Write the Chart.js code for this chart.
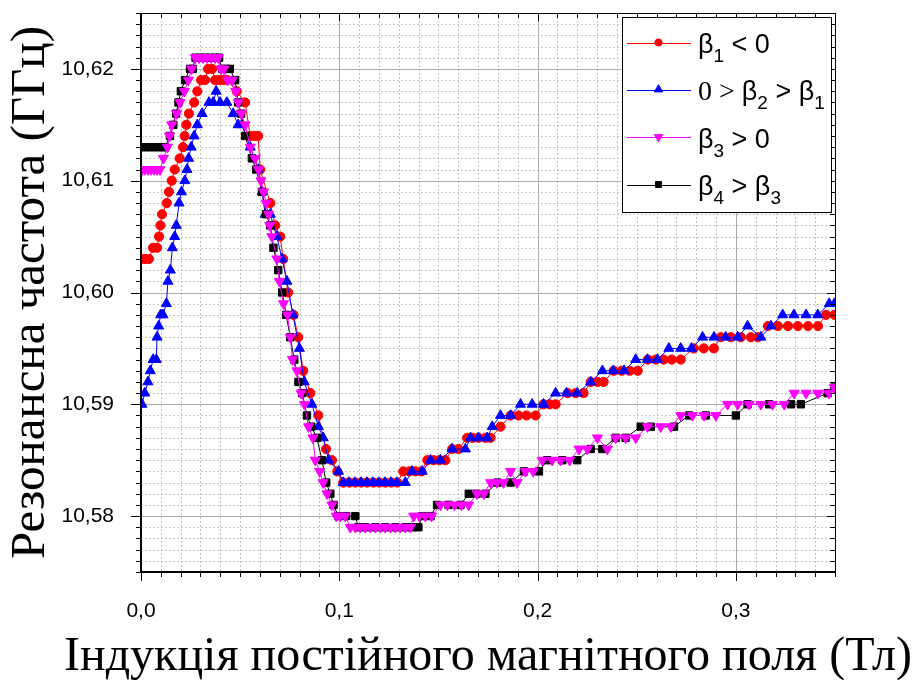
<!DOCTYPE html>
<html>
<head>
<meta charset="utf-8">
<script src="https://cdn.jsdelivr.net/npm/chart.js@4.4.0/dist/chart.umd.min.js"></script>
<style>
  html, body { margin: 0; padding: 0; background: #ffffff; }
  canvas { display: block; }
</style>
</head>
<body>
<canvas id="c" width="916" height="680" style="width:916px;height:680px"></canvas>
<script>
// Resonance frequency (GHz) versus bias magnetic induction (T), four series.
// Each point is [induction, frequency].
const seriesBeta1 = [
  [0.0000,10.603],[0.0020,10.603],[0.0040,10.603],[0.0061,10.604],[0.0081,10.604],[0.0091,10.605],[0.0098,10.606],[0.0106,10.607],
  [0.0130,10.608],[0.0141,10.609],[0.0155,10.610],[0.0170,10.611],[0.0195,10.612],[0.0212,10.613],[0.0220,10.614],[0.0229,10.615],
  [0.0242,10.616],[0.0268,10.617],[0.0284,10.618],[0.0303,10.619],[0.0323,10.619],[0.0338,10.620],[0.0359,10.620],[0.0374,10.619],
  [0.0394,10.619],[0.0414,10.619],[0.0434,10.619],[0.0483,10.618],[0.0525,10.617],[0.0551,10.614],[0.0571,10.614],[0.0591,10.614],
  [0.0601,10.611],[0.0652,10.608],[0.0677,10.606],[0.0702,10.605],[0.0717,10.603],[0.0742,10.600],[0.0769,10.598],[0.0793,10.596],
  [0.0818,10.593],[0.0854,10.591],[0.0894,10.589],[0.0933,10.586],[0.0963,10.585],[0.0990,10.584],[0.1020,10.583],[0.1051,10.583],
  [0.1081,10.583],[0.1111,10.583],[0.1141,10.583],[0.1172,10.583],[0.1202,10.583],[0.1232,10.583],[0.1263,10.583],[0.1293,10.583],
  [0.1323,10.584],[0.1354,10.584],[0.1384,10.584],[0.1414,10.584],[0.1444,10.585],[0.1475,10.585],[0.1505,10.585],[0.1535,10.585],
  [0.1569,10.586],[0.1601,10.586],[0.1645,10.587],[0.1672,10.587],[0.1702,10.587],[0.1737,10.587],[0.1763,10.587],[0.1813,10.588],
  [0.1864,10.589],[0.1904,10.589],[0.1944,10.589],[0.1990,10.589],[0.2030,10.590],[0.2061,10.590],[0.2091,10.590],[0.2152,10.591],
  [0.2192,10.591],[0.2232,10.591],[0.2268,10.592],[0.2303,10.592],[0.2333,10.592],[0.2384,10.593],[0.2424,10.593],[0.2465,10.593],
  [0.2505,10.593],[0.2556,10.594],[0.2596,10.594],[0.2636,10.594],[0.2677,10.594],[0.2722,10.594],[0.2788,10.595],[0.2838,10.595],
  [0.2889,10.595],[0.2924,10.596],[0.2975,10.596],[0.3025,10.596],[0.3076,10.596],[0.3111,10.596],[0.3162,10.597],[0.3212,10.597],
  [0.3263,10.597],[0.3313,10.597],[0.3364,10.597],[0.3414,10.597],[0.3455,10.598],[0.3497,10.598]
];

const seriesBeta2 = [
  [0.0005,10.590],[0.0019,10.591],[0.0035,10.592],[0.0047,10.593],[0.0061,10.594],[0.0077,10.594],[0.0081,10.596],[0.0089,10.597],
  [0.0099,10.598],[0.0111,10.598],[0.0128,10.599],[0.0136,10.601],[0.0148,10.602],[0.0158,10.604],[0.0170,10.605],[0.0178,10.606],
  [0.0192,10.608],[0.0204,10.609],[0.0221,10.610],[0.0232,10.611],[0.0240,10.612],[0.0253,10.613],[0.0268,10.614],[0.0284,10.615],
  [0.0308,10.616],[0.0343,10.617],[0.0364,10.617],[0.0379,10.618],[0.0399,10.617],[0.0433,10.617],[0.0465,10.616],[0.0490,10.615],
  [0.0509,10.615],[0.0551,10.613],[0.0591,10.611],[0.0611,10.609],[0.0626,10.607],[0.0652,10.607],[0.0685,10.605],[0.0711,10.603],
  [0.0736,10.601],[0.0766,10.598],[0.0799,10.595],[0.0823,10.592],[0.0862,10.590],[0.0895,10.588],[0.0919,10.587],[0.0946,10.585],
  [0.0996,10.584],[0.1020,10.583],[0.1048,10.583],[0.1078,10.583],[0.1109,10.583],[0.1139,10.583],[0.1169,10.583],[0.1199,10.583],
  [0.1230,10.583],[0.1260,10.583],[0.1290,10.583],[0.1333,10.583],[0.1367,10.584],[0.1418,10.584],[0.1460,10.585],[0.1510,10.585],
  [0.1569,10.586],[0.1636,10.586],[0.1662,10.587],[0.1702,10.587],[0.1746,10.587],[0.1771,10.588],[0.1813,10.589],[0.1864,10.589],
  [0.1914,10.590],[0.1973,10.590],[0.2030,10.590],[0.2091,10.591],[0.2146,10.591],[0.2200,10.591],[0.2268,10.592],[0.2327,10.593],
  [0.2382,10.593],[0.2436,10.593],[0.2495,10.594],[0.2554,10.594],[0.2605,10.594],[0.2662,10.595],[0.2722,10.595],[0.2776,10.595],
  [0.2832,10.596],[0.2890,10.596],[0.2949,10.596],[0.3009,10.596],[0.3059,10.597],[0.3126,10.596],[0.3177,10.597],[0.3236,10.598],
  [0.3293,10.598],[0.3354,10.598],[0.3413,10.598],[0.3471,10.599],[0.3497,10.599]
];

const seriesBeta3 = [
  [0.0005,10.611],[0.0020,10.611],[0.0035,10.611],[0.0051,10.611],[0.0066,10.611],[0.0081,10.611],[0.0096,10.611],[0.0113,10.612],
  [0.0133,10.613],[0.0144,10.614],[0.0155,10.615],[0.0180,10.616],[0.0197,10.617],[0.0219,10.618],[0.0239,10.619],[0.0255,10.620],
  [0.0274,10.621],[0.0293,10.621],[0.0313,10.621],[0.0333,10.621],[0.0354,10.621],[0.0374,10.621],[0.0389,10.621],[0.0404,10.620],
  [0.0419,10.620],[0.0437,10.619],[0.0460,10.619],[0.0478,10.618],[0.0490,10.617],[0.0505,10.616],[0.0525,10.615],[0.0551,10.613],
  [0.0576,10.612],[0.0592,10.611],[0.0605,10.610],[0.0618,10.609],[0.0631,10.608],[0.0643,10.607],[0.0649,10.606],[0.0660,10.605],
  [0.0685,10.603],[0.0698,10.601],[0.0719,10.599],[0.0739,10.598],[0.0753,10.596],[0.0764,10.594],[0.0786,10.593],[0.0807,10.591],
  [0.0825,10.590],[0.0845,10.588],[0.0867,10.587],[0.0879,10.585],[0.0901,10.584],[0.0918,10.583],[0.0938,10.582],[0.0963,10.581],
  [0.0985,10.580],[0.1005,10.580],[0.1030,10.580],[0.1056,10.579],[0.1081,10.579],[0.1106,10.579],[0.1131,10.579],[0.1157,10.579],
  [0.1182,10.579],[0.1207,10.579],[0.1232,10.579],[0.1258,10.579],[0.1283,10.579],[0.1308,10.579],[0.1333,10.579],[0.1359,10.579],
  [0.1375,10.580],[0.1404,10.580],[0.1434,10.580],[0.1465,10.580],[0.1510,10.581],[0.1545,10.581],[0.1581,10.581],[0.1616,10.581],
  [0.1652,10.581],[0.1695,10.582],[0.1729,10.582],[0.1763,10.583],[0.1795,10.583],[0.1828,10.583],[0.1864,10.584],[0.1897,10.583],
  [0.1939,10.584],[0.1978,10.584],[0.2024,10.585],[0.2074,10.585],[0.2116,10.585],[0.2162,10.585],[0.2209,10.586],[0.2251,10.586],
  [0.2302,10.587],[0.2352,10.586],[0.2394,10.587],[0.2444,10.587],[0.2495,10.587],[0.2554,10.588],[0.2621,10.588],[0.2672,10.588],
  [0.2722,10.589],[0.2781,10.589],[0.2840,10.589],[0.2899,10.589],[0.2958,10.590],[0.3009,10.590],[0.3067,10.590],[0.3126,10.590],
  [0.3185,10.590],[0.3244,10.590],[0.3294,10.591],[0.3354,10.591],[0.3413,10.591],[0.3470,10.591],[0.3497,10.5915]
];

const seriesBeta4 = [
  [0.0005,10.613],[0.0025,10.613],[0.0045,10.613],[0.0066,10.613],[0.0086,10.613],[0.0106,10.613],[0.0121,10.613],[0.0146,10.614],
  [0.0163,10.615],[0.0177,10.616],[0.0189,10.617],[0.0201,10.618],[0.0222,10.619],[0.0247,10.620],[0.0261,10.620],[0.0275,10.621],
  [0.0298,10.621],[0.0323,10.621],[0.0348,10.621],[0.0374,10.621],[0.0394,10.621],[0.0409,10.620],[0.0429,10.620],[0.0448,10.620],
  [0.0475,10.619],[0.0490,10.617],[0.0505,10.616],[0.0525,10.614],[0.0559,10.612],[0.0581,10.611],[0.0610,10.609],[0.0631,10.607],
  [0.0652,10.606],[0.0668,10.604],[0.0692,10.602],[0.0712,10.600],[0.0732,10.598],[0.0753,10.596],[0.0773,10.594],[0.0794,10.592],
  [0.0813,10.591],[0.0837,10.589],[0.0859,10.588],[0.0887,10.587],[0.0913,10.585],[0.0934,10.583],[0.0955,10.582],[0.0971,10.581],
  [0.0995,10.580],[0.1035,10.580],[0.1081,10.580],[0.1096,10.579],[0.1131,10.579],[0.1182,10.579],[0.1232,10.579],[0.1283,10.579],
  [0.1333,10.579],[0.1369,10.579],[0.1399,10.579],[0.1419,10.580],[0.1460,10.580],[0.1493,10.581],[0.1551,10.581],[0.1611,10.581],
  [0.1653,10.582],[0.1692,10.582],[0.1737,10.582],[0.1798,10.583],[0.1864,10.583],[0.1931,10.584],[0.2007,10.584],[0.2049,10.585],
  [0.2125,10.585],[0.2200,10.585],[0.2268,10.586],[0.2327,10.586],[0.2394,10.587],[0.2444,10.587],[0.2520,10.588],[0.2571,10.588],
  [0.2688,10.588],[0.2764,10.589],[0.2848,10.589],[0.3000,10.589],[0.3059,10.590],[0.3168,10.590],[0.3278,10.590],[0.3328,10.590],
  [0.3463,10.591],[0.3497,10.5915]
];

// Axis ranges and tick values
const xRange = [0, 0.35];
const yRange = [10.575, 10.625];
const xTickValues = [0.0, 0.1, 0.2, 0.3];
const yTickValues = [10.58, 10.59, 10.60, 10.61, 10.62];
const xMinorStep = 0.01;   // T
const yMinorStep = 0.001;  // GHz

const xTitle = 'Індукція постійного магнітного поля (Тл)';
const yTitle = 'Резонансна частота (ГГц)';

// Legend rows: pieces of text; "sub" pieces are subscripts
const legendRows = [
  [{ t: 'β' }, { t: '1', sub: true }, { t: ' < 0' }],
  [{ t: '0 > ', serif: true }, { t: 'β' }, { t: '2', sub: true }, { t: ' > β' }, { t: '1', sub: true }],
  [{ t: 'β' }, { t: '3', sub: true }, { t: ' > 0' }],
  [{ t: 'β' }, { t: '4', sub: true }, { t: ' > β' }, { t: '3', sub: true }]
];

const toPoints = arr => arr.map(p => ({ x: p[0], y: p[1] }));
const commaFmt = (v, d) => v.toFixed(d).replace('.', ',');
const SERIF = '"Liberation Serif", "Times New Roman", serif';
const SANS = '"Liberation Sans", Arial, sans-serif';

function makeSet(points, color, style, radius, rotation, order) {
  return {
    data: toPoints(points),
    showLine: true,
    borderColor: color,
    backgroundColor: color,
    borderWidth: 1,
    tension: 0,
    pointStyle: style,
    pointRadius: radius,
    pointRotation: rotation,
    pointBackgroundColor: color,
    pointBorderColor: color,
    pointBorderWidth: 1,
    order: order
  };
}

// Grid, frame with inner/outer ticks, the horizontal axis title and an inset legend
const framePlugin = {
  id: 'framePlugin',
  beforeDatasetsDraw(chart) {
    const { ctx, chartArea: a, scales: { x, y } } = chart;
    ctx.save();
    ctx.lineWidth = 1;
    // minor dotted grid
    ctx.strokeStyle = '#c6c6c6';
    ctx.setLineDash([2, 2]);
    ctx.beginPath();
    const kx0 = Math.round(xRange[0] / xMinorStep), kx1 = Math.round(xRange[1] / xMinorStep);
    for (let k = kx0; k <= kx1; k++) {
      if (k % 10 === 0) continue;
      const px = Math.round(x.getPixelForValue(k * xMinorStep)) + 0.5;
      ctx.moveTo(px, a.top); ctx.lineTo(px, a.bottom);
    }
    const ky0 = Math.round(yRange[0] / yMinorStep), ky1 = Math.round(yRange[1] / yMinorStep);
    for (let k = ky0; k <= ky1; k++) {
      if (k % 10 === 0) continue;
      const py = Math.round(y.getPixelForValue(k * yMinorStep)) + 0.5;
      ctx.moveTo(a.left, py); ctx.lineTo(a.right, py);
    }
    ctx.stroke();
    // major solid grid
    ctx.setLineDash([]);
    ctx.strokeStyle = '#ababab';
    ctx.beginPath();
    xTickValues.forEach(v => {
      const px = Math.round(x.getPixelForValue(v)) + 0.5;
      if (px > a.left + 2) { ctx.moveTo(px, a.top); ctx.lineTo(px, a.bottom); }
    });
    yTickValues.forEach(v => {
      const py = Math.round(y.getPixelForValue(v)) + 0.5;
      ctx.moveTo(a.left, py); ctx.lineTo(a.right, py);
    });
    ctx.stroke();
    ctx.restore();
  },
  afterDraw(chart) {
    const { ctx, chartArea: a, scales: { x, y } } = chart;
    ctx.save();
    ctx.strokeStyle = '#000';
    // ticks
    ctx.lineWidth = 1;
    ctx.beginPath();
    const kx0 = Math.round(xRange[0] / xMinorStep), kx1 = Math.round(xRange[1] / xMinorStep);
    for (let k = kx0; k <= kx1; k++) {
      const major = k % 10 === 0;
      const px = Math.round(x.getPixelForValue(k * xMinorStep)) + 0.5;
      ctx.moveTo(px, a.bottom); ctx.lineTo(px, a.bottom + (major ? 9 : 5));
      ctx.moveTo(px, a.top); ctx.lineTo(px, a.top + (major ? 8 : 5));
    }
    const ky0 = Math.round(yRange[0] / yMinorStep), ky1 = Math.round(yRange[1] / yMinorStep);
    for (let k = ky0; k <= ky1; k++) {
      const major = k % 10 === 0;
      const py = Math.round(y.getPixelForValue(k * yMinorStep)) + 0.5;
      ctx.moveTo(a.left, py); ctx.lineTo(a.left - (major ? 10 : 5), py);
      ctx.moveTo(a.right, py); ctx.lineTo(a.right - (major ? 8 : 5), py);
    }
    ctx.stroke();
    // frame
    ctx.lineWidth = 1;
    ctx.beginPath();
    ctx.moveTo(a.left, a.top + 0.5); ctx.lineTo(a.right + 0.5, a.top + 0.5);
    ctx.moveTo(a.right + 0.5, a.top); ctx.lineTo(a.right + 0.5, a.bottom);
    ctx.stroke();
    ctx.lineWidth = 2;
    ctx.beginPath();
    ctx.moveTo(a.left, a.top); ctx.lineTo(a.left, a.bottom + 1);
    ctx.moveTo(a.left - 1, a.bottom); ctx.lineTo(a.right + 1, a.bottom);
    ctx.stroke();

    // horizontal axis title (wider than the plot, so drawn without squeezing)
    ctx.fillStyle = '#000';
    ctx.font = '48px ' + SERIF;
    ctx.textAlign = 'center';
    ctx.textBaseline = 'alphabetic';
    ctx.fillText(xTitle, (a.left + a.right) / 2, 670);

    // legend box
    const bx = 622.5, by = 17.5, bw = 209, bh = 195;
    ctx.fillStyle = '#fff';
    ctx.fillRect(bx, by, bw, bh);
    ctx.lineWidth = 1;
    ctx.strokeStyle = '#000';
    ctx.strokeRect(bx, by, bw, bh);
    const rowY = [42.5, 89.5, 137, 184.5];
    const sets = chart.data.datasets;
    legendRows.forEach((row, i) => {
      const ds = sets[i];
      const ry = rowY[i];
      ctx.strokeStyle = ds.borderColor;
      ctx.lineWidth = 1;
      ctx.beginPath();
      ctx.moveTo(627, Math.round(ry) + 0.5); ctx.lineTo(691, Math.round(ry) + 0.5);
      ctx.stroke();
      ctx.fillStyle = ds.pointBackgroundColor;
      ctx.strokeStyle = ds.pointBorderColor;
      Chart.helpers.drawPoint(ctx, {
        pointStyle: ds.pointStyle, radius: ds.pointRadius - 1,
        rotation: ds.pointRotation, borderWidth: 1
      }, 658.5, ry);
      let tx = 698;
      ctx.fillStyle = '#000';
      ctx.textAlign = 'left';
      ctx.textBaseline = 'alphabetic';
      row.forEach(p => {
        let font, by2;
        if (p.sub) { font = '19px ' + SANS; by2 = ry + 19.5; }
        else if (p.serif) { font = '28px ' + SERIF; by2 = ry + 10.5; }
        else { font = '27px ' + SANS; by2 = ry + 10.5; }
        ctx.font = font;
        ctx.fillText(p.t, tx, by2);
        tx += ctx.measureText(p.t).width;
      });
    });
    ctx.restore();
  }
};

new Chart(document.getElementById('c'), {
  type: 'scatter',
  data: {
    datasets: [
      makeSet(seriesBeta1, '#ff0000', 'circle', 4.6, 0, 3),
      makeSet(seriesBeta2, '#0000ff', 'triangle', 5.8, 0, 2),
      makeSet(seriesBeta3, '#ff00ff', 'triangle', 5.8, 180, 0),
      makeSet(seriesBeta4, '#000000', 'rect', 5.2, 0, 1)
    ]
  },
  options: {
    responsive: false,
    animation: false,
    devicePixelRatio: 1,
    layout: { padding: { top: 13, right: 81, left: 0, bottom: 0 } },
    plugins: { legend: { display: false }, tooltip: { enabled: false } },
    scales: {
      x: {
        type: 'linear',
        min: xRange[0], max: xRange[1],
        afterBuildTicks: s => { s.ticks = xTickValues.map(v => ({ value: v })); },
        afterFit: s => { s.height = 108; s.paddingLeft = 0; s.paddingRight = 0; },
        grid: { display: false },
        border: { display: false },
        ticks: {
          callback: v => commaFmt(v, 1),
          font: { family: SANS, size: 21 },
          color: '#000', padding: 19, maxRotation: 0, autoSkip: false
        },
        title: { display: false }
      },
      y: {
        type: 'linear',
        min: yRange[0], max: yRange[1],
        afterBuildTicks: s => { s.ticks = yTickValues.map(v => ({ value: v })); },
        afterFit: s => { s.width = 141; s.paddingTop = 0; s.paddingBottom = 0; },
        grid: { display: false },
        border: { display: false },
        ticks: {
          callback: v => commaFmt(v, 2),
          font: { family: SANS, size: 21 },
          color: '#000', padding: 19, autoSkip: false
        },
        title: {
          display: true, text: yTitle, color: '#000', padding: { top: 2, bottom: 0 },
          font: { family: SERIF, size: 49, weight: 'normal' }
        }
      }
    }
  },
  plugins: [framePlugin]
});
</script>
</body>
</html>
